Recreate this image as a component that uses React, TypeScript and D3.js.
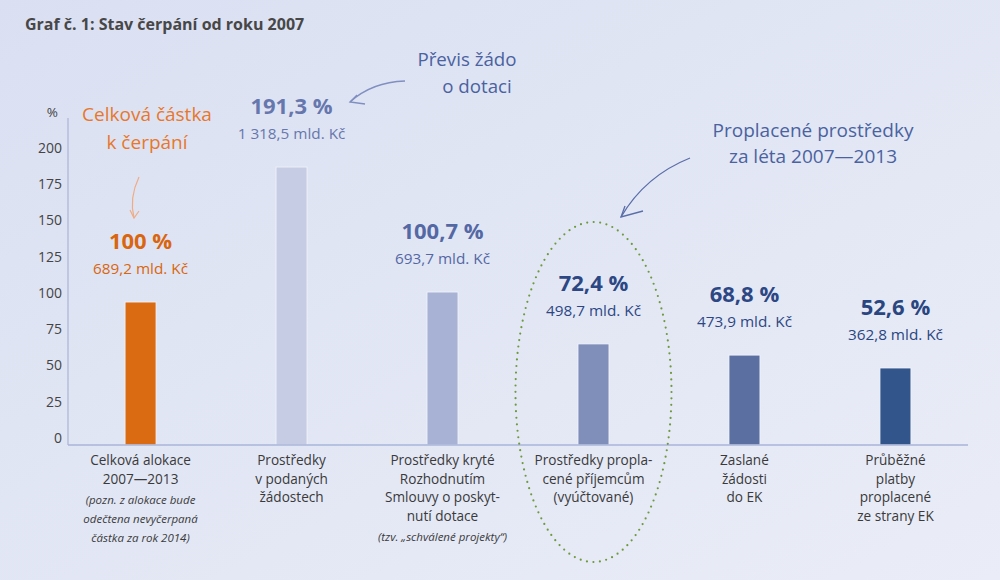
import React, { useEffect } from "react";
import * as d3 from "d3";

// kategorie na ose x
const categories = ["alokace", "podane", "kryte", "vyuctovane", "zaslane", "prubezne"];
// vyska sloupcu v %
const barValues = [98.6, 191.7, 105.5, 69.7, 62, 53.1];
const pctLabels = ["100 %", "191,3 %", "100,7 %", "72,4 %", "68,8 %", "52,6 %"];
const amountLabels = [
  "689,2 mld. Kč",
  "1 318,5 mld. Kč",
  "693,7 mld. Kč",
  "498,7 mld. Kč",
  "473,9 mld. Kč",
  "362,8 mld. Kč",
];
const catLines = [
  ["Celková alokace", "2007—2013"],
  ["Prostředky", "v podaných", "žádostech"],
  ["Prostředky kryté", "Rozhodnutím", "Smlouvy o poskyt-", "nutí dotace"],
  ["Prostředky propla-", "cené příjemcům", "(vyúčtované)"],
  ["Zaslané", "žádosti", "do EK"],
  ["Průběžné", "platby", "proplacené", "ze strany EK"],
];
const catNotes = [
  ["(pozn. z alokace bude", "odečtena nevyčerpaná", "částka za rok 2014)"],
  [],
  ["(tzv. „schválené projekty“)"],
  [],
  [],
  [],
];
const yTicks = [0, 25, 50, 75, 100, 125, 150, 175, 200];

const barColors = ["#db6b12", "#c6cce3", "#a8b2d4", "#7f8fb9", "#5b70a1", "#32558b"];
const labelColors = ["#d9660f", "#6677ad", "#5468a4", "#2c4784", "#2c4784", "#2a4680"];

const W = 1000;
const H = 580;
const axisLeft = 68;
const axisRight = 968;
const baseY = 445;
const font = "'Open Sans', 'Noto Sans', sans-serif";

export default function App() {
  useEffect(() => {
    document.body.style.margin = "0";
  }, []);

  const x = d3
    .scaleBand()
    .domain(categories)
    .range([axisLeft, axisRight])
    .paddingInner(0.795)
    .paddingOuter(0.378);
  const y = d3.scaleLinear().domain([0, 200]).range([baseY, 155]);
  const cx = (i: number) => (x(categories[i]) as number) + x.bandwidth() / 2;

  const ellCx = cx(3);

  return (
    <svg width={W} height={H} style={{ display: "block" }} fontFamily={font}>
      <defs>
        <linearGradient id="bg" x1="0" y1="0" x2="1" y2="1">
          <stop offset="0%" stopColor="#dae0f2" />
          <stop offset="100%" stopColor="#eaedf7" />
        </linearGradient>
      </defs>
      <rect width={W} height={H} fill="url(#bg)" />

      <text x={25} y={30} fontSize={16} fontWeight="bold" fill="#474747">
        Graf č. 1: Stav čerpání od roku 2007
      </text>

      {/* osa y */}
      <line x1={axisLeft} x2={axisLeft} y1={118} y2={baseY} stroke="#a9b4d8" strokeWidth={1.2} />
      <text x={58} y={117} fontSize={13.5} fill="#444" textAnchor="end">%</text>
      {yTicks.map((t) => (
        <text key={t} x={62} y={y(t) - 6} fontSize={14} fill="#444" textAnchor="end" dominantBaseline="middle">
          {t}
        </text>
      ))}

      {/* sloupce */}
      {barValues.map((v, i) => (
        <rect
          key={i}
          x={x(categories[i])}
          y={y(v)}
          width={x.bandwidth()}
          height={baseY - y(v)}
          fill={barColors[i]}
          stroke="#f2f4fb"
          strokeWidth={0.8}
        />
      ))}

      {/* osa x */}
      <line x1={axisLeft} x2={axisRight} y1={baseY} y2={baseY} stroke="#a9b4d8" strokeWidth={1.5} />

      {/* popisky hodnot */}
      {barValues.map((v, i) => (
        <g key={i} textAnchor="middle" fill={labelColors[i]}>
          <text x={cx(i)} y={y(v) - 53} fontSize={22} fontWeight="bold">
            {pctLabels[i]}
          </text>
          <text x={cx(i)} y={y(v) - 28} fontSize={15.3}>
            {amountLabels[i]}
          </text>
        </g>
      ))}

      {/* popisky kategorii */}
      {catLines.map((lines, i) => (
        <g key={i} textAnchor="middle">
          {lines.map((l, j) => (
            <text key={j} x={cx(i)} y={465 + j * 18.5} fontSize={13.6} fill="#3a3a3a">
              {l}
            </text>
          ))}
          {catNotes[i].map((l, j) => (
            <text
              key={"n" + j}
              x={cx(i)}
              y={465 + lines.length * 18.5 + 2 + j * 19}
              fontSize={11.5}
              fontStyle="italic"
              fill="#3a3a3a"
            >
              {l}
            </text>
          ))}
        </g>
      ))}

      {/* tečkovaná elipsa */}
      <ellipse
        cx={ellCx}
        cy={392}
        rx={78}
        ry={170}
        fill="none"
        stroke="#6f9a3c"
        strokeWidth={2.2}
        strokeDasharray="0 6.5"
        strokeLinecap="round"
      />

      {/* anotace */}
      <g textAnchor="middle" fill="#e8772b" fontSize={19}>
        <text x={147} y={121}>Celková částka</text>
        <text x={147} y={149}>k čerpání</text>
      </g>
      <g fill="none" stroke="#eeac86" strokeWidth={1.2}>
        <path d="M139,177 Q129,198 134,218" />
        <path d="M130,210 L134,218 L139,211" />
      </g>

      <g textAnchor="middle" fill="#4a62a0" fontSize={18.7}>
        <text x={467} y={66}>Převis žádo</text>
        <text x={477} y={93}>o dotaci</text>
      </g>
      <g fill="none" stroke="#7f8fc0" strokeWidth={1.3}>
        <path d="M405,81 Q372,82 350,102" />
        <path d="M357,95 L350,102 L365,104" />
      </g>

      <g textAnchor="middle" fill="#4a62a0" fontSize={19}>
        <text x={813} y={137}>Proplacené prostředky</text>
        <text x={813} y={163}>za léta 2007—2013</text>
      </g>
      <g fill="none" stroke="#5a6ea8" strokeWidth={1.3}>
        <path d="M690,158 Q645,176 621,217" />
        <path d="M625,206 L621,217 L643,211" />
      </g>
    </svg>
  );
}
